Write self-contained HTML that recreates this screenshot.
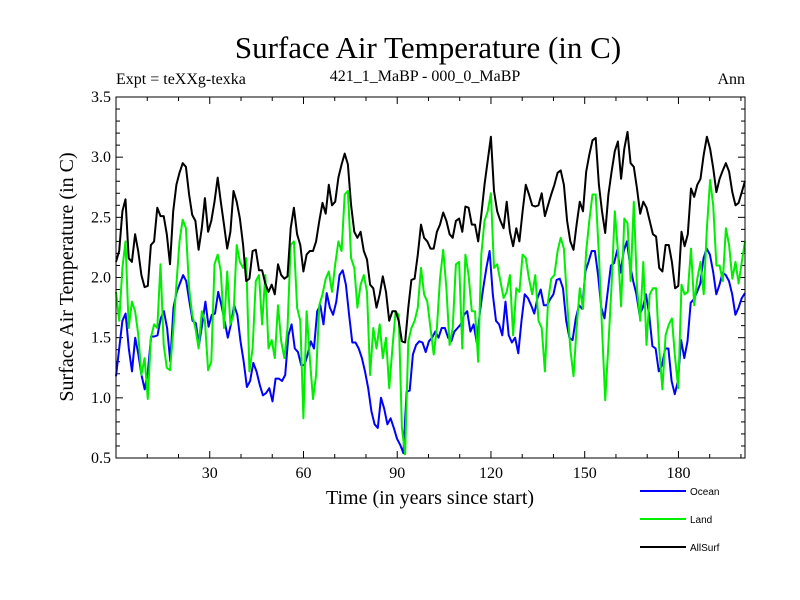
<!DOCTYPE html>
<html><head><meta charset="utf-8"><style>
body{margin:0;background:#fff}
svg{display:block}
text{font-family:"Liberation Serif",serif;fill:#000}
</style></head><body>
<svg id="chart" width="800" height="600">
<text x="428" y="58" font-size="31" text-anchor="middle">Surface Air Temperature (in C)</text>
<text x="116" y="84" font-size="16">Expt = teXXg-texka</text>
<text x="425" y="81" font-size="16" text-anchor="middle">421_1_MaBP - 000_0_MaBP</text>
<text x="745" y="84" font-size="16" text-anchor="end">Ann</text>
<text transform="translate(73,277) rotate(-90)" font-size="20" text-anchor="middle">Surface Air Temperature (in C)</text>
<text x="430" y="504" font-size="20" text-anchor="middle">Time (in years since start)</text>
<g id="ticks"></g>
<g id="series"></g>
<rect x="116" y="97" width="629" height="361" fill="none" stroke="#000" stroke-width="1"/>
<g id="legend"></g>
</svg>
<script>
const ocean=[1.18,1.41,1.64,1.70,1.41,1.22,1.50,1.36,1.19,1.07,1.22,1.51,1.51,1.52,1.66,1.72,1.58,1.30,1.75,1.88,1.95,2.02,1.97,1.80,1.64,1.62,1.44,1.61,1.80,1.59,1.69,1.70,1.88,1.77,1.64,1.50,1.61,1.77,1.69,1.47,1.30,1.09,1.14,1.29,1.22,1.11,1.02,1.04,1.08,
0.97,1.16,1.16,1.14,1.19,1.52,1.61,1.41,1.38,1.27,1.27,1.36,1.47,1.41,1.72,1.77,1.61,1.87,1.75,1.69,1.80,2.02,2.06,1.94,1.69,1.46,1.46,1.41,1.33,1.22,1.08,0.89,0.78,0.75,1.00,0.91,0.78,0.83,0.75,0.66,0.61,0.54,1.05,1.06,1.36,1.44,1.47,1.46,1.38,1.47,
1.50,1.55,1.50,1.58,1.58,1.50,1.47,1.55,1.58,1.61,1.69,1.72,1.55,1.61,1.46,1.72,1.91,2.08,2.22,1.86,1.64,1.61,1.52,1.80,1.52,1.46,1.50,1.37,1.64,1.86,1.83,1.77,1.70,1.83,1.90,1.77,1.77,1.82,1.86,1.98,1.99,1.91,1.64,1.50,1.48,1.66,1.77,1.74,2.05,2.13,2.22,
2.22,2.02,1.75,1.66,1.88,2.10,2.12,2.23,2.04,2.22,2.30,2.10,1.97,1.86,1.69,1.75,1.86,1.69,1.43,1.41,1.22,1.27,1.41,1.41,1.14,1.03,1.14,1.48,1.33,1.47,1.79,1.82,1.88,1.95,2.16,2.24,2.19,2.05,1.86,1.94,2.04,2.02,1.97,1.86,1.69,1.75,1.83,1.87];
const land=[1.88,1.64,2.08,2.30,1.58,1.80,1.72,1.53,1.19,1.33,0.99,1.50,1.61,1.58,2.11,1.44,1.25,1.23,1.55,1.94,2.30,2.48,2.41,1.91,1.69,1.58,1.41,1.72,1.64,1.23,1.30,2.11,2.19,2.05,1.58,2.05,1.61,1.69,2.27,2.13,2.08,2.16,1.22,1.41,1.97,2.02,1.61,2.02,1.41,1.48,
1.33,1.77,1.47,1.33,1.58,2.27,2.30,1.75,1.64,0.83,1.72,1.33,0.99,1.19,1.77,1.86,1.99,2.05,1.88,2.11,2.30,2.22,2.69,2.72,2.16,2.08,1.75,1.94,2.02,1.88,1.19,1.58,1.41,1.61,1.33,1.50,1.08,1.41,1.72,1.69,0.75,0.53,1.47,1.58,1.64,1.75,2.08,1.86,1.80,1.58,
1.36,1.58,1.99,2.23,1.91,1.44,1.58,2.11,2.13,1.41,2.19,2.02,1.72,1.72,1.30,2.19,2.47,2.55,2.70,2.08,2.11,1.97,1.83,1.88,2.02,1.52,1.91,1.88,2.19,2.16,1.99,1.86,2.02,1.64,1.58,1.22,1.80,1.99,2.02,2.22,2.33,2.24,1.80,1.41,1.18,1.58,1.91,1.74,2.22,2.47,2.69,
2.69,2.19,1.58,0.98,1.44,1.94,2.55,2.22,1.76,2.49,2.45,1.97,2.63,1.91,1.64,2.13,1.44,1.86,1.91,1.91,1.41,1.07,1.52,1.61,1.66,1.33,1.08,1.94,1.86,1.88,2.24,1.77,1.99,2.13,1.86,2.41,2.81,2.60,2.10,2.10,1.97,2.41,2.27,1.99,2.13,1.95,2.13,2.30];
const allSurf=[2.13,2.22,2.55,2.65,2.16,2.13,2.36,2.22,2.02,1.92,1.93,2.27,2.30,2.58,2.51,2.51,2.36,2.11,2.55,2.77,2.87,2.95,2.92,2.69,2.52,2.47,2.23,2.41,2.66,2.38,2.47,2.63,2.83,2.63,2.44,2.24,2.38,2.72,2.63,2.49,2.27,1.97,1.99,2.22,2.23,2.06,2.06,1.95,1.88,1.94,
1.86,2.11,2.02,1.99,2.01,2.41,2.58,2.36,2.27,2.05,2.19,2.22,2.22,2.30,2.47,2.62,2.53,2.77,2.60,2.63,2.83,2.94,3.03,2.94,2.60,2.38,2.33,2.38,2.22,2.15,1.94,1.91,1.75,1.86,2.01,1.88,1.64,1.72,1.72,1.64,1.47,1.46,1.75,1.98,1.99,2.19,2.44,2.33,2.30,2.24,
2.24,2.38,2.44,2.54,2.47,2.36,2.33,2.47,2.49,2.38,2.59,2.58,2.44,2.44,2.30,2.52,2.77,2.97,3.17,2.72,2.55,2.47,2.41,2.63,2.38,2.26,2.41,2.30,2.55,2.77,2.69,2.60,2.59,2.60,2.70,2.51,2.60,2.69,2.77,2.87,2.89,2.77,2.47,2.30,2.23,2.44,2.63,2.55,2.88,3.02,3.14,
3.16,2.77,2.55,2.37,2.69,2.88,3.05,3.13,2.82,3.07,3.21,2.95,2.92,2.74,2.53,2.63,2.58,2.47,2.36,2.34,2.08,2.05,2.27,2.27,2.13,1.91,1.93,2.38,2.26,2.36,2.74,2.67,2.77,2.82,3.02,3.17,3.07,2.91,2.71,2.82,2.89,2.95,2.88,2.71,2.60,2.62,2.71,2.80];
const xTicks=[30,60,90,120,150,180];
const yTicks=[0.5,1.0,1.5,2.0,2.5,3.0,3.5];
const seriesNames=["Ocean","Land","AllSurf"];
const seriesColors=["#0000ff","#00ee00","#000000"];

const X0=116,X1=745,Y0=97,Y1=458,XMIN=0,XMAX=201.3,YMIN=0.5,YMAX=3.5;
const xs=v=>X0+(v-XMIN)/(XMAX-XMIN)*(X1-X0);
const ys=v=>Y1-(v-YMIN)/(YMAX-YMIN)*(Y1-Y0);
const NS="http://www.w3.org/2000/svg";
function mk(tag,attrs,parent){const e=document.createElementNS(NS,tag);for(const k in attrs)e.setAttribute(k,attrs[k]);parent.appendChild(e);return e;}
const tg=document.getElementById('ticks');
for(let t=10;t<=200;t+=10){const big=t%30===0;const L=big?7:4;const x=xs(t);
 const a=mk('line',{x1:x,x2:x,y1:Y1,y2:Y1-L,stroke:'#000'},tg);
 const b=mk('line',{x1:x,x2:x,y1:Y0,y2:Y0+L,stroke:'#000'},tg);}
xTicks.forEach(t=>{const e=mk('text',{x:xs(t),y:Y1+20,'font-size':16,'text-anchor':'middle'},tg);e.textContent=t;
 });
for(let i=5;i<=35;i++){const v=i/10;const big=i%5===0;const L=big?7:4;const y=ys(v);
 const a=mk('line',{x1:X0,x2:X0+L,y1:y,y2:y,stroke:'#000'},tg);
 const b=mk('line',{x1:X1,x2:X1-L,y1:y,y2:y,stroke:'#000'},tg);}
yTicks.forEach(t=>{const e=mk('text',{x:X0-5,y:ys(t)+5,'font-size':16,'text-anchor':'end'},tg);e.textContent=t.toFixed(1);
 });
const sg=document.getElementById('series');
[ocean,land,allSurf].forEach((d,k)=>{const step=(XMAX-XMIN)/(d.length-1);
 const pts=d.map((v,i)=>xs(XMIN+i*step).toFixed(1)+','+ys(v).toFixed(1)).join(' ');
 const p=mk('polyline',{points:pts,fill:'none',stroke:seriesColors[k],'stroke-width':2,'stroke-linejoin':'round'},sg);
 
 });
const lg=document.getElementById('legend');
[0,1,2].forEach(k=>{const y=491+k*28;
 const l=mk('line',{x1:640,x2:686,y1:y,y2:y,stroke:seriesColors[k],'stroke-width':2},lg);
 
 
 const t=mk('text',{x:690,y:y+4,'font-size':10,style:'font-family:"Liberation Sans",sans-serif'},lg);t.textContent=seriesNames[k];
 
 });
</script>
</body></html>
